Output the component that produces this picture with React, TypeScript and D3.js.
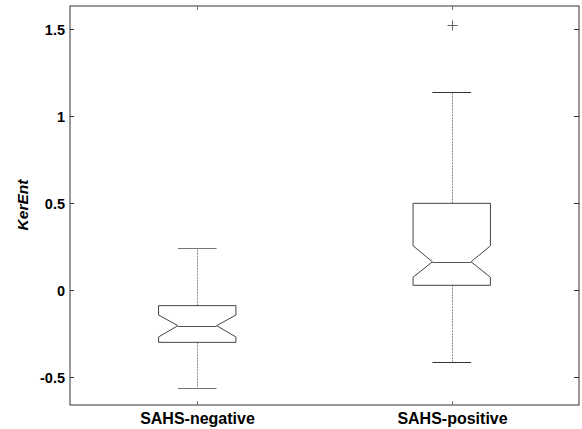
import React, { useEffect, useRef } from 'react';
import * as d3 from 'd3';

const categories = ['SAHS-negative', 'SAHS-positive'];
const whiskerHi = [0.241, 1.14];
const q3 = [-0.088, 0.5];
const notchHi = [-0.142, 0.256];
const medians = [-0.203, 0.164];
const notchLo = [-0.268, 0.075];
const q1 = [-0.299, 0.029];
const whiskerLo = [-0.56, -0.41];
const outliers = [[], [1.527]];
const yTicks = [-0.5, 0, 0.5, 1, 1.5];

const App = () => {
  const ref = useRef<SVGSVGElement | null>(null);

  useEffect(() => {
    const W = 582;
    const H = 429;
    const left = 70;
    const right = 579;
    const top = 6;
    const bottom = 405;

    const svg = d3.select(ref.current);
    svg.selectAll('*').remove();

    const x = d3.scaleLinear().domain([0.5, 2.5]).range([left, right]);
    const y = d3.scaleLinear().domain([-0.659, 1.634]).range([bottom, top]);

    const axisColor = '#333';
    const font = 'Arial, "Liberation Sans", sans-serif';

    // frame
    svg.append('rect')
      .attr('x', left).attr('y', top)
      .attr('width', right - left).attr('height', bottom - top)
      .attr('fill', 'none').attr('stroke', axisColor).attr('stroke-width', 1);

    // y ticks (inside, both sides)
    yTicks.forEach(t => {
      const yy = Math.round(y(t)) + 0.5;
      svg.append('line').attr('x1', left).attr('x2', left + 4).attr('y1', yy).attr('y2', yy)
        .attr('stroke', axisColor);
      svg.append('line').attr('x1', right - 5).attr('x2', right).attr('y1', yy).attr('y2', yy)
        .attr('stroke', axisColor);
      svg.append('text')
        .attr('x', left - 5).attr('y', yy)
        .attr('text-anchor', 'end').attr('dominant-baseline', 'central')
        .attr('font-family', font).attr('font-weight', 'bold').attr('font-size', 14.5)
        .attr('fill', '#000')
        .text(String(t));
    });

    // x ticks + labels
    categories.forEach((c, i) => {
      const xx = Math.round(x(i + 1)) + 0.5;
      svg.append('line').attr('x1', xx).attr('x2', xx).attr('y1', bottom - 4).attr('y2', bottom)
        .attr('stroke', '#777');
      svg.append('line').attr('x1', xx).attr('x2', xx).attr('y1', top).attr('y2', top + 4)
        .attr('stroke', '#777');
      svg.append('text')
        .attr('x', xx).attr('y', 424)
        .attr('text-anchor', 'middle')
        .attr('font-family', font).attr('font-weight', 'bold').attr('font-size', 16)
        .attr('fill', '#000')
        .text(c);
    });

    // y label
    svg.append('text')
      .attr('transform', `translate(27.5,205) rotate(-90)`)
      .attr('text-anchor', 'middle')
      .attr('font-family', font).attr('font-weight', 'bold').attr('font-style', 'italic')
      .attr('font-size', 15.5)
      .attr('fill', '#000')
      .text('KerEnt');

    // boxes
    const halfBox = 0.152;
    const halfNotch = 0.076;
    categories.forEach((_, i) => {
      const c = i + 1;
      const cx = Math.round(x(c)) + 0.5;
      const g = svg.append('g');

      // whiskers (dashed)
      g.append('line').attr('x1', cx).attr('x2', cx).attr('y1', y(q3[i])).attr('y2', y(whiskerHi[i]))
        .attr('stroke', '#888').attr('stroke-dasharray', '2,1');
      g.append('line').attr('x1', cx).attr('x2', cx).attr('y1', y(q1[i])).attr('y2', y(whiskerLo[i]))
        .attr('stroke', '#888').attr('stroke-dasharray', '2,1');

      // caps
      [whiskerHi[i], whiskerLo[i]].forEach(v => {
        const yy = Math.round(y(v)) + 0.5;
        g.append('line')
          .attr('x1', x(c - halfNotch)).attr('x2', x(c + halfNotch))
          .attr('y1', yy).attr('y2', yy)
          .attr('stroke', i === 0 ? '#777' : '#333');
      });

      // notched box
      const pts: [number, number][] = [
        [c - halfBox, q3[i]],
        [c + halfBox, q3[i]],
        [c + halfBox, notchHi[i]],
        [c + halfNotch, medians[i]],
        [c + halfBox, notchLo[i]],
        [c + halfBox, q1[i]],
        [c - halfBox, q1[i]],
        [c - halfBox, notchLo[i]],
        [c - halfNotch, medians[i]],
        [c - halfBox, notchHi[i]],
      ];
      const line = d3.line<[number, number]>()
        .x(d => x(d[0]))
        .y(d => y(d[1]))
        .curve(d3.curveLinearClosed);
      g.append('path').attr('d', line(pts))
        .attr('fill', 'none').attr('stroke', '#444').attr('stroke-width', 1);

      // median
      const my = Math.round(y(medians[i])) + 0.5;
      g.append('line')
        .attr('x1', x(c - halfNotch)).attr('x2', x(c + halfNotch))
        .attr('y1', my).attr('y2', my)
        .attr('stroke', '#555');

      // outliers
      outliers[i].forEach(v => {
        const oy = Math.round(y(v)) + 0.5;
        g.append('line').attr('x1', cx - 5).attr('x2', cx + 5).attr('y1', oy).attr('y2', oy)
          .attr('stroke', '#666');
        g.append('line').attr('x1', cx).attr('x2', cx).attr('y1', oy - 5).attr('y2', oy + 5)
          .attr('stroke', '#666');
      });
    });

    svg.attr('width', W).attr('height', H);
  }, []);

  return (
    <div style={{ position: 'absolute', left: 0, top: 0, background: '#fff' }}>
      <svg ref={ref} width={582} height={429} style={{ display: 'block' }} />
    </div>
  );
};

export default App;
